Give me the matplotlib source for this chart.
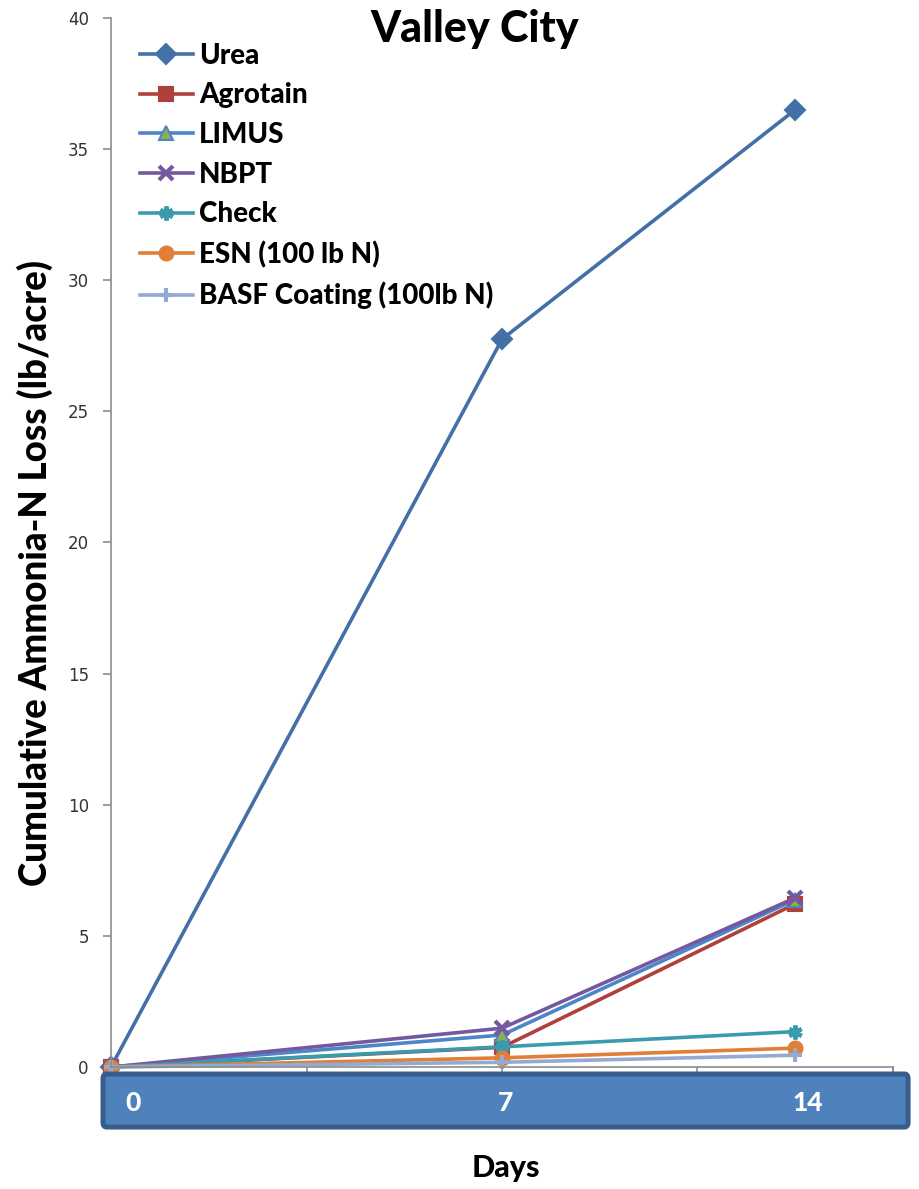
import matplotlib
matplotlib.use('Agg')
import matplotlib.pyplot as plt
from matplotlib.patches import FancyBboxPatch
from matplotlib.transforms import blended_transform_factory, offset_copy

# sampling positions on the day axis and the labels shown under them
sample_x = [0, 8, 14]
day_labels = ['0', '7', '14']

urea = [0, 27.75, 36.5]
agrotain = [0, 0.75, 6.22]
limus = [0, 1.22, 6.38]
nbpt = [0, 1.48, 6.45]
check = [0, 0.77, 1.35]
esn = [0, 0.35, 0.72]
basf = [0, 0.18, 0.45]

series = [
    ('Urea', urea, '#4470A8', 'D', '#4470A8'),
    ('Agrotain', agrotain, '#B0403C', 's', '#B0403C'),
    ('LIMUS', limus, '#4A86C8', '^', '#8DB04B'),
    ('NBPT', nbpt, '#7458A0', 'x', '#7458A0'),
    ('Check', check, '#3A9BAE', (6, 2, 0), '#3A9BAE'),
    ('ESN (100 lb N)', esn, '#E07F35', 'o', '#E07F35'),
    ('BASF Coating (100lb N)', basf, '#93AAD3', '+', '#93AAD3'),
]

W = 'black'  # heaviest face available for the label text

fig = plt.figure(figsize=(9.19, 11.89), dpi=100)
fig.patch.set_facecolor('w')
ax = fig.add_axes([0.1208, 0.1026, 0.8509, 0.8823])

for name, vals, col, mk, face in series:
    mew = 3 if mk in ('x', '+', (6, 2, 0)) else 1.5
    ax.plot(sample_x, vals, color=col, lw=2.6, marker=mk, ms=10,
            mfc=face, mec=col, mew=mew, label=name, clip_on=False)

ax.set_xlim(0, 16)
ax.set_ylim(0, 40)
ax.set_xticks([0, 4, 8, 12, 16])
ax.set_yticks(range(0, 41, 5))
ax.spines['top'].set_visible(False)
ax.spines['right'].set_visible(False)
for s in ['left', 'bottom']:
    ax.spines[s].set_color('#8C8C8C')
    ax.spines[s].set_linewidth(1.2)
ax.tick_params(axis='x', direction='out', length=6, color='#8C8C8C', width=1.2,
               labelbottom=False)
ax.tick_params(axis='y', direction='out', length=6, color='#8C8C8C', width=1.2,
               labelsize=12, labelcolor='#333333', pad=10)
for t in ax.get_yticklabels():
    t.set_fontfamily('DejaVu Sans')
# closing tick at the right end of the day axis
ax.plot([16, 16], [0, -0.25], color='#8C8C8C', lw=1.2, clip_on=False)

# blue band holding the day labels
band = FancyBboxPatch((0.1121, 0.0521), 0.876, 0.0446,
                      boxstyle='round,pad=0,rounding_size=0.004',
                      transform=fig.transFigure, facecolor='#4F81BD',
                      edgecolor='#385D8A', lw=3.6, zorder=5)
fig.patches.append(band)
trans = blended_transform_factory(ax.transData, fig.transFigure)
nudge = [22, 4, 12]
for x, lab, dx in zip(sample_x, day_labels, nudge):
    tr = offset_copy(trans, fig=fig, x=dx, y=0, units='dots')
    fig.text(x, 0.072, lab, transform=tr, ha='center', va='center',
             color='white', fontsize=19, fontweight=W, family='Lato', zorder=6)

fig.text(0.517, 0.976, 'Valley City', ha='center', va='center',
         fontsize=31, fontweight=W, family='Lato')
fig.text(0.038, 0.518, 'Cumulative Ammonia-N Loss (lb/acre)', rotation=90,
         ha='center', va='center', fontsize=26.5, fontweight=W, family='Lato')
fig.text(0.55, 0.018, 'Days', ha='center', va='center',
         fontsize=22, fontweight=W, family='Lato')

leg = ax.legend(loc='upper left', bbox_to_anchor=(0.1523, 0.964),
                bbox_transform=fig.transFigure, frameon=False,
                prop={'family': 'Lato', 'weight': W, 'size': 20},
                handlelength=1.9, handletextpad=0.22, labelspacing=0.49,
                borderpad=0, borderaxespad=0, markerscale=1)

plt.savefig('out.png', dpi=100)
plt.close('all')
